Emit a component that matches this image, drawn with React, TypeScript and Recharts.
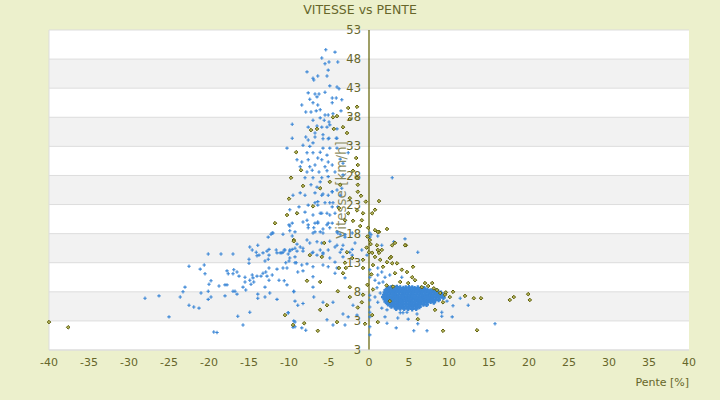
import React from 'react';
import {
  ScatterChart,
  Scatter,
  XAxis,
  YAxis,
  CartesianGrid,
  ReferenceLine,
  ReferenceDot,
} from 'recharts';

document.body.style.margin = '0';

const FONT = '"DejaVu Sans", sans-serif';
const TEXT = '#66662a';
const BLUE = '#3a86d6';

const X_TICKS = [-40, -35, -30, -25, -20, -15, -10, -5, 0, 5, 10, 15, 20, 25, 30, 35, 40];
const Y_TICKS = [-2, 3, 8, 13, 18, 23, 28, 33, 38, 43, 48, 53];
// the bottom tick really reads "3" in the source chart
const Y_LABELS = ['3', '3', '8', '13', '18', '23', '28', '33', '38', '43', '48', '53'];

// blue series, scattered points [pente, vitesse]
const BLUE_POINTS: [number, number][] = [
  [-5.4, 49.6], [-4.25, 49.2], [-5.9, 48.2], [-5.5, 47.2], [-5, 47.5], [-3.9, 47.5],
  [-7.75, 45.8], [-5.1, 46.1], [-7, 44.7], [-6.9, 44.4], [-6.4, 45.1], [-5.25, 45.1],
  [-4.9, 43.4], [-4, 43.2], [-3.75, 42.9], [-7.6, 42.2], [-6.75, 42], [-6.25, 42],
  [-5.5, 42.3], [-7.4, 41.1], [-6.5, 41.5], [-4.6, 41.3], [-4.1, 41.3], [-3.4, 41],
  [-8.4, 40.1], [-7, 40.5], [-6.4, 40.1], [-4.6, 40.5], [-7.9, 38.9], [-7.25, 38.9],
  [-6.6, 39.1], [-6.1, 39.3], [-5.5, 38.4], [-5.1, 38.4], [-4.5, 38.6], [-3.5, 39.1],
  [-7, 37.5], [-6.1, 37.9], [-5.6, 37.5], [-5, 37.2], [-9.6, 36.8], [-7.6, 36.3],
  [-6.5, 36.5], [-5.9, 36.3], [-5.25, 36.3], [-4.9, 36.7], [-4, 36], [-6.75, 35.3],
  [-5.75, 35], [-9.6, 34.4], [-7.9, 34.6], [-5, 34.4], [-4.1, 34.4],
  [-7.6, 34.1], [-6.75, 34.6], [-5.75, 34.3], [-5.1, 34.3], [-4, 34.4],
  [-10.25, 32.7], [-8.25, 33.2], [-7.4, 33], [-7, 33.6], [-5.75, 32.7], [-4.9, 32.7],
  [-4, 32.7], [-7.75, 31.9], [-7, 31.9], [-6.1, 32], [-5.25, 31.5], [-9, 30.7],
  [-8.4, 30.3], [-7.6, 30.7], [-6.4, 31], [-5.9, 30.7], [-5.1, 30.3], [-3.6, 30.8],
  [-8.6, 29.5], [-7.4, 29.5], [-6.75, 29.8], [-5.5, 29.5], [-4.6, 29.8], [-7.75, 28.6],
  [-7.1, 28.9], [-6.25, 28.6], [-5.25, 28.8], [-4.25, 28.6], [-8, 27.6], [-7, 27.6],
  [-5.9, 27.6], [-5.1, 27.8], [-3.25, 28.1], [-2.6, 31.9], [-3.25, 30.1],
  [-8.6, 25], [-8, 24.6], [-6.75, 25], [-5.75, 24.8], [-4.6, 25.2], [-3.6, 24.6],
  [-9.5, 24.6], [-9.9, 22.1], [-8.75, 22.6], [-7.6, 22.9], [-6.4, 22.9], [-5.5, 23.3],
  [-4.6, 22.6], [-7, 21.2], [-5.9, 21.5], [-4.9, 21.2], [-9.6, 19.8], [-8.25, 20],
  [-7.6, 19.5], [-6.4, 19.8], [-5.25, 19.5], [-4.6, 19.8], [-9.25, 18.3], [-6.75, 18.3],
  [-4, 18.3], [-12, 18.1],
  [-7.25, 26.4], [-6.5, 26], [-6.1, 26.9], [-5.9, 24.6], [-5.1, 24.6], [-4.6, 25.2],
  [-4, 25.5], [-3.4, 25.8], [-6.75, 23.3], [-6.4, 23.5], [-4.9, 23.3], [-4.5, 23.3],
  [-3.9, 22.6], [-9, 21.5], [-8, 21.7], [-6.1, 21.5], [-5.25, 21.5], [-4.25, 21.5],
  [-7.75, 20.3], [-6.75, 19.8], [-6.4, 20], [-5.1, 19.8], [-9.9, 19.3], [-7.6, 19],
  [-7, 18.1], [-6.1, 18.3], [-5.75, 18.1], [-3.9, 18.1], [-3, 17.4], [-2.1, 18.1],
  [-12.1, 18.1], [-10.75, 17.9], [-10.75, 14.8], [-9.9, 15], [-9.25, 15.5], [-8.25, 15.5],
  [-7.4, 16.4], [-7, 14.8], [-6.1, 15.2], [-5.75, 14.5], [-5.1, 15.2], [-4.25, 15.7],
  [-3.6, 14.8], [-3.25, 16], [-1.75, 16.4], [-2.1, 14.3], [-0.9, 15.2], [-0.25, 14.3],
  [-6.9, 19], [-5.75, 18.8], [-4.9, 19], [-3.6, 17.9], [-3, 17.8], [-7.75, 16.9],
  [-6.5, 16.6], [-5.9, 16.4], [-4.9, 16.7], [-4, 16], [-3.4, 15.3], [-2.1, 15.3],
  [-10.5, 15.2], [-9.6, 15.3], [-8.6, 15.7], [-8.25, 15], [-7.1, 14.7], [-6.5, 14.3],
  [-5.75, 14.7], [-4.9, 13.8], [-4.25, 13.1], [-3.25, 14], [-2.4, 14.8], [-9.9, 13.8],
  [-9.25, 13], [-8.4, 12.6], [-7.75, 12.8], [-7, 12.3], [-5.75, 12.6], [-5.1, 12.3],
  [-4, 12.1], [-3, 10.4], [-8.9, 11.4], [-8.25, 11.6], [-7, 10.6], [-4.25, 11.2],
  [-7, 8.8], [-9.4, 8], [-6.9, 7.1], [-9.25, 6.4], [-8.9, 5.7], [-8.25, 6],
  [-5.75, 6.2], [-4.5, 6.2], [-10.1, 4.4], [-5.25, 3.2], [-4.5, 2.3], [-3.25, 4.2],
  [-3, 2.3], [-2.6, 3.7], [-8.4, 1.8], [-7.9, 1.4], [-9.5, 1.9], [-9.25, 2.8],
  [-1.5, 4], [-2, 5.7],
  [-28, 6.9], [-26.25, 7.3], [-25, 3.7], [-23.6, 7.1], [-23.25, 8], [-23, 8.8],
  [-22.5, 5.7], [-21.9, 5.4], [-21.25, 5.2], [-21, 7.8], [-22.5, 12.4], [-21.1, 11.9],
  [-20.6, 12.6], [-20.5, 11.1], [-20.1, 14.5], [-20.1, 8.1], [-20.1, 6.7], [-20, 9.3],
  [-19.75, 9.9], [-19.75, 7.1], [-19.4, 1.1], [-19, 1], [-18.75, 9], [-18.5, 14.5],
  [-18, 7.3], [-18, 9.2], [-17.75, 9.2], [-17.75, 11.6], [-17.6, 11.1], [-17, 14.5],
  [-17, 11.1], [-17, 8.1], [-16.9, 11.8], [-16.75, 8.1], [-16.5, 11.4], [-16.5, 7.6],
  [-16.4, 3.8], [-16.25, 10.7], [-15.75, 2.3], [-15.75, 8.8], [-15.5, 10.5], [-15.5, 9.7],
  [-15.4, 8.3], [-15, 13.6], [-15, 12.9], [-14.9, 15.7], [-14.9, 10], [-14.75, 9.3],
  [-14.9, 4.5], [-14.6, 15.2], [-14.6, 10.9], [-14.5, 10.4], [-14.4, 9.7], [-14.1, 14.8],
  [-14, 14.2], [-14, 10.7], [-13.9, 16], [-13.9, 7.6], [-13.9, 6.9], [-13.75, 14.3],
  [-13.5, 10.7], [-13.25, 14.7], [-13.25, 11.2], [-13, 13.3], [-13, 8.8], [-13, 7.1],
  [-12.9, 11.4], [-12.75, 10.7], [-12.75, 15], [-12.6, 13.6], [-12.6, 17.4], [-12.5, 15.3],
  [-12.5, 14.3], [-12.5, 12.1], [-12.5, 10], [-12.4, 7.8], [-12.25, 17.9], [-12.1, 10.9],
  [-11.6, 15.2], [-11.5, 14.7], [-11.5, 11.9], [-11.5, 6.7], [-11.25, 10], [-11.1, 14.7],
  [-10.9, 14.7], [-10.75, 12.1], [-10.6, 15.2], [-10.6, 9.9], [-10.4, 13], [-10.25, 12.1],
  [-10.25, 9.2], [-10.1, 4.4], [-10.1, 14.5], [-10, 19.5], [-10, 13.3], [-9.9, 18.5],
  [-9.9, 15.2], [-9.6, 17.6], [-9.4, 8.1], [-9.4, 3], [-9.25, 2], [-9.25, 14],
  [-9.1, 13], [-9, 16.2], [-9, 15],
  // right of the axis, outside the dense cluster
  [2.9, 27.6], [1.1, 17.6], [1.6, 16], [3.1, 16.6], [4.5, 17.1], [6.1, 14.8],
  [1.1, 12.1], [1.6, 11.4], [1.1, 10.9], [2, 10.5], [2.6, 10.9], [0.75, 10],
  [1.25, 9.5], [1.75, 9.7], [1, 8.7], [1.4, 7.8], [0.75, 7.1], [1.1, 6.2],
  [1.6, 5.2], [2.25, 4.9], [2, 3.7], [3.6, 3.5], [4.9, 3.3], [3.9, 4.4],
  [4.25, 4.4], [4.75, 4.5], [6, 4.2], [6.1, 2.5], [2.25, 2.6], [3.4, 1.8],
  [5.6, 1.3], [7.25, 1.3], [9.1, 3.8], [10.4, 3.7], [9.1, 4.5], [10.5, 5.6],
  [9.75, 6.4], [11.4, 6.9], [12.4, 5.7], [15.75, 2.5], [8.6, 7.8], [4.1, 10.5],
  [0.25, 17.8],
  // on the axis
  [0.1, 18.1], [0.1, 17.4], [0.1, 11.8], [0.1, 10.5], [0.1, 7.4], [0.1, 6.6],
  [0.1, 5.4], [0.1, 4.5], [0.1, 3.7], [0.1, 2], [0.1, 0.6],
];

// blue dense cluster near 2..9 %, 5..9 km/h
const BLUE_CLUSTER: [number, number][] = [
  [2.4, 8.7], [2.8, 8.75], [3.2, 8.7], [3.5, 8.8], [3.9, 8.7], [4.3, 8.65], [4.6, 8.7], [5.0, 8.75], [5.4, 8.7], [5.7, 8.6], [6.1, 8.7], [6.5, 8.65], [6.9, 8.6],
  [2.1, 8.3], [2.5, 8.35], [2.9, 8.3], [3.2, 8.25], [3.6, 8.3], [4.0, 8.35], [4.4, 8.3], [4.7, 8.25], [5.1, 8.3], [5.5, 8.3], [5.8, 8.35], [6.2, 8.3], [6.6, 8.25], [6.9, 8.3], [7.3, 8.3], [7.7, 8.2], [8.1, 8.3], [8.5, 8.2],
  [2.0, 7.9], [2.3, 7.95], [2.7, 7.9], [3.1, 7.85], [3.4, 7.9], [3.8, 7.9], [4.2, 7.95], [4.5, 7.9], [4.9, 7.85], [5.3, 7.9], [5.6, 7.9], [6.0, 7.95], [6.4, 7.9], [6.7, 7.85], [7.1, 7.9], [7.5, 7.9], [7.8, 7.95], [8.2, 7.9], [8.6, 7.85], [9.0, 7.8],
  [1.9, 7.5], [2.2, 7.5], [2.6, 7.55], [3.0, 7.5], [3.3, 7.45], [3.7, 7.5], [4.1, 7.5], [4.4, 7.55], [4.8, 7.5], [5.2, 7.45], [5.5, 7.5], [5.9, 7.5], [6.3, 7.55], [6.6, 7.5], [7.0, 7.45], [7.4, 7.5], [7.7, 7.5], [8.1, 7.55], [8.5, 7.5], [8.8, 7.45], [9.2, 7.4],
  [1.8, 7.1], [2.2, 7.1], [2.5, 7.15], [2.9, 7.1], [3.3, 7.05], [3.6, 7.1], [4.0, 7.1], [4.4, 7.15], [4.7, 7.1], [5.1, 7.05], [5.5, 7.1], [5.8, 7.1], [6.2, 7.15], [6.6, 7.1], [6.9, 7.05], [7.3, 7.1], [7.7, 7.1], [8.0, 7.15], [8.4, 7.1], [8.8, 7.05], [9.3, 7.0],
  [2.0, 6.7], [2.4, 6.7], [2.7, 6.75], [3.1, 6.7], [3.5, 6.65], [3.8, 6.7], [4.2, 6.7], [4.6, 6.75], [4.9, 6.7], [5.3, 6.65], [5.7, 6.7], [6.0, 6.7], [6.4, 6.75], [6.8, 6.7], [7.1, 6.65], [7.5, 6.7], [7.9, 6.7], [8.3, 6.65], [8.7, 6.6],
  [2.1, 6.3], [2.5, 6.3], [2.9, 6.35], [3.2, 6.3], [3.6, 6.25], [4.0, 6.3], [4.3, 6.3], [4.7, 6.35], [5.1, 6.3], [5.4, 6.25], [5.8, 6.3], [6.2, 6.3], [6.5, 6.35], [6.9, 6.3], [7.3, 6.25], [7.7, 6.3], [8.1, 6.2],
  [2.4, 5.9], [2.8, 5.9], [3.1, 5.95], [3.5, 5.9], [3.9, 5.85], [4.2, 5.9], [4.6, 5.9], [5.0, 5.95], [5.3, 5.9], [5.7, 5.85], [6.1, 5.9], [6.4, 5.9], [6.8, 5.85], [7.2, 5.8],
  [2.8, 5.5], [3.2, 5.5], [3.6, 5.55], [4.0, 5.5], [4.3, 5.45], [4.7, 5.5], [5.1, 5.5], [5.5, 5.45], [5.9, 5.5], [6.3, 5.4],
  [3.4, 5.1], [3.9, 5.15], [4.4, 5.1], [4.9, 5.1], [5.4, 5.05], [5.9, 5.1],
];

// olive series
const OLIVE_POINTS: [number, number][] = [
  [-2.6, 39.6], [-1.5, 39.8], [-4.5, 38], [-4, 38.2], [-2.4, 37.7], [-3.25, 36.3],
  [-7.25, 35.8], [-6.5, 36], [-2.75, 35.3], [-4.4, 36],
  [-9.1, 32], [-8.5, 28.9], [-9.75, 27.6], [-8.25, 26.2], [-6.1, 25.8], [-4.9, 26.9],
  [-3.6, 26.4], [-2, 28.8], [-1.5, 27.6], [-1.4, 26.4], [-1.4, 25.2], [-2.4, 24.1],
  [-3.75, 22.4], [-2.6, 21.5], [-1.5, 22], [-0.75, 21.5], [-10.25, 21.2], [-9, 21.5],
  [-7, 22.7], [-10, 24], [-11.75, 19.8], [-3, 20.3], [-2, 20.2], [-0.9, 20.3],
  [-1.1, 19.3], [-0.4, 23.5], [-1, 24.5], [-1.4, 29.8], [-1.6, 31],
  [-9.4, 16.9], [-5.6, 16.4], [-7.4, 14.3], [-5.9, 14], [-2.75, 14.8], [-2.1, 13.8],
  [-3, 13], [-3.75, 12.1], [-2.9, 12.1], [-3.25, 11.2], [-0.75, 13.5], [-0.75, 12.1],
  [-7.75, 9.9], [-6.1, 9.7], [-2.4, 8.8], [-3.9, 8.1], [-0.75, 7.5], [-2.4, 7.1],
  [-5.25, 5.7], [-6.1, 4.9], [-0.9, 6.2], [-8.1, 2.6], [-6.4, 1.3], [-4, 2.8],
  [-0.5, 2.5], [-1.4, 5.3], [-9.4, 16.7], [-10.5, 4], [-9.5, 2.3],
  [-40, 2.8], [-37.6, 1.9],
  // near and right of the axis
  [-0.1, 19], [0.4, 21.5], [0.1, 16.9], [0.75, 18.6], [1.25, 18.3], [2.25, 18.8],
  [1.25, 23.6], [0.75, 22.1], [4.6, 16], [1.1, 15.2], [2.75, 14], [0, 14.8],
  [1.1, 18.3], [3.25, 16.4], [4.5, 16], [1, 16], [1.6, 15.2], [2.9, 16],
  [0.4, 14.7], [1.25, 14.7], [0.75, 14], [1.4, 13.5], [2.6, 13.8], [2.25, 13.1],
  [2.9, 12.9], [3.5, 12.9], [0.5, 12.6], [1.75, 12.3], [4.1, 11.8], [4.75, 11.4],
  [5.5, 12.3], [3.25, 11.2], [5.4, 10.5], [5.75, 10], [3.9, 9.7], [4.9, 9.5],
  [7, 9.5], [7.9, 9.5], [6.6, 8.8], [7.4, 9], [8.5, 8.3], [8.9, 7.8],
  [9.5, 7.5], [10.1, 7.1], [10.5, 8], [12, 7.3], [13.1, 6.9], [14, 6.9],
  [17.6, 6.6], [18.1, 7.1], [19.9, 7.6], [20.1, 6.6], [13.5, 1.4], [9.25, 1.3],
  [6.1, 3.3], [1.1, 2.8], [0.4, 4], [2.6, 6.4], [8.25, 4.9], [9.25, 6.2],
  [-0.2, 17.5], [0.2, 16.2], [-0.3, 15.6], [0.3, 11], [-0.2, 9.2], [0.5, 8.4],
  [2.2, 9.1], [3, 8.9], [9.6, 7.9], [8.1, 8.6],
];

const toXY = (pts: [number, number][]) => pts.map(([x, y]) => ({ x, y }));

const PlusShape = (props: any) => {
  const { cx, cy } = props;
  const s = 1.7;
  return (
    <path
      d={`M${cx - s},${cy}H${cx + s}M${cx},${cy - s}V${cy + s}`}
      stroke={BLUE}
      strokeWidth={1.1}
      fill="none"
    />
  );
};

const ClusterShape = (props: any) => {
  const { cx, cy } = props;
  const s = 2.4;
  return (
    <path
      d={`M${cx - s},${cy}H${cx + s}M${cx},${cy - s}V${cy + s}`}
      stroke={BLUE}
      strokeWidth={2.2}
      fill="none"
    />
  );
};

const DiamondShape = (props: any) => {
  const { cx, cy } = props;
  const s = 1.8;
  return (
    <path
      d={`M${cx},${cy - s}L${cx + s},${cy}L${cx},${cy + s}L${cx - s},${cy}Z`}
      stroke="#5c5c08"
      strokeWidth={1}
      fill="#b4b45a"
    />
  );
};

const NoTick = () => <g />;

const YTitle = (props: any) => {
  const { viewBox } = props;
  const x = viewBox.x - 28;
  const y = viewBox.y + viewBox.height / 2;
  return (
    <text
      x={x}
      y={y}
      transform={`rotate(-90 ${x} ${y})`}
      textAnchor="middle"
      dominantBaseline="central"
      fontFamily={FONT}
      fontSize={13.5}
      fill={TEXT}
      fillOpacity={0.75}
    >
      Vitesse [km/h]
    </text>
  );
};

const XTitle = (props: any) => {
  const { viewBox } = props;
  return (
    <text
      x={viewBox.x + viewBox.width}
      y={viewBox.y + 36}
      textAnchor="end"
      fontFamily={FONT}
      fontSize={11}
      fill={TEXT}
    >
      Pente [%]
    </text>
  );
};

export default function App() {
  return (
    <div style={{ position: 'relative', width: 720, height: 400, background: '#ecf0cc', fontFamily: FONT }}>
      <div
        style={{
          position: 'absolute',
          top: 2,
          left: 0,
          width: 720,
          textAlign: 'center',
          fontSize: 12.5,
          color: TEXT,
        }}
      >
        VITESSE vs PENTE
      </div>
      <ScatterChart width={720} height={400} margin={{ top: 30, right: 31, left: 49, bottom: 0 }}>
        <CartesianGrid
          vertical={false}
          stroke="#dddddd"
          fill="#ffffff"
          horizontalFill={['#ffffff', '#f2f2f2']}
          fillOpacity={1}
        />
        <XAxis
          type="number"
          dataKey="x"
          domain={[-40, 40]}
          ticks={X_TICKS}
          interval={0}
          height={50}
          tickLine={false}
          axisLine={{ stroke: '#dddddd' }}
          tick={{ fill: TEXT, fontSize: 11, fontFamily: FONT }}
          label={<XTitle />}
        />
        <YAxis
          type="number"
          dataKey="y"
          domain={[-2, 53]}
          ticks={Y_TICKS}
          interval={0}
          width={0}
          tick={NoTick}
          tickLine={false}
          axisLine={false}
        />
        <ReferenceLine x={-40} stroke="#dddddd" />
        <Scatter data={toXY(BLUE_POINTS)} shape={PlusShape} isAnimationActive={false} />
        <Scatter data={toXY(BLUE_CLUSTER)} shape={ClusterShape} isAnimationActive={false} />
        <Scatter data={toXY(OLIVE_POINTS)} shape={DiamondShape} isAnimationActive={false} />
        <ReferenceLine x={0} stroke="#5f5f00" strokeWidth={1.2} label={<YTitle />} />
        {Y_TICKS.map((t, i) => (
          <ReferenceDot
            key={t}
            x={0}
            y={t}
            r={0}
            fill="none"
            stroke="none"
            label={{
              value: Y_LABELS[i],
              position: 'left',
              offset: 8,
              fill: TEXT,
              fontSize: 11.5,
              fontFamily: FONT,
            }}
          />
        ))}
      </ScatterChart>
    </div>
  );
}
